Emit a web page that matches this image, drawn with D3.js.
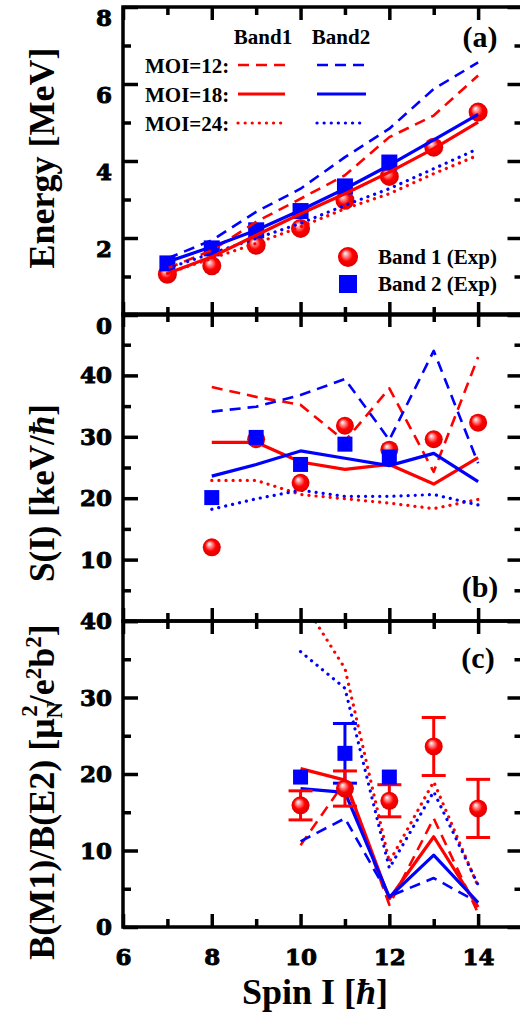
<!DOCTYPE html>
<html><head><meta charset="utf-8">
<script src="https://cdn.jsdelivr.net/npm/d3@7"></script>
<style>body{margin:0;background:#fff}svg{display:block}</style>
</head><body><svg id="c" width="520" height="1016"></svg>
<script>
// ---------- DATA ----------
const spinsA = [7, 8, 9, 10, 11, 12, 13, 14];
const spinsA2 = [7, 8, 9, 10, 11, 12];
const aBand1Exp = [1.06, 1.28, 1.81, 2.25, 2.98, 3.60, 4.36, 5.27];
const aBand2Exp = [1.34, 1.73, 2.20, 2.70, 3.34, 3.96];
const aRed12  = [1.21, 1.68, 2.42, 3.02, 3.63, 4.62, 5.18, 6.22];
const aBlue12 = [1.47, 1.94, 2.68, 3.28, 4.10, 4.84, 5.87, 6.56];
const aRed18  = [1.08, 1.51, 2.07, 2.63, 3.15, 3.71, 4.32, 5.01];
const aBlue18 = [1.38, 1.77, 2.20, 2.72, 3.28, 3.89, 4.55, 5.21];
const aRed24  = [1.08, 1.47, 1.86, 2.29, 2.76, 3.15, 3.67, 4.15];
const aBlue24 = [1.21, 1.60, 1.99, 2.38, 2.85, 3.28, 3.80, 4.32];

const spinsB = [8, 9, 10, 11, 12, 13, 14];
const spinsB2 = [8, 9, 10, 11, 12];
const bBand1Exp = [12.0, 29.6, 22.5, 31.8, 27.9, 29.6, 32.3];
const bBand2Exp = [20.1, 29.9, 25.5, 28.8, 26.7];
const bRed12  = [38.1, 36.5, 35.2, 29.3, 37.9, 24.3, 43.0];
const bBlue12 = [34.1, 34.9, 36.8, 39.4, 29.5, 44.0, 25.7];
const bRed18  = [29.1, 29.1, 25.9, 24.7, 25.5, 22.3, 26.6];
const bBlue18 = [23.6, 25.5, 27.7, 26.5, 25.3, 27.3, 22.7];
const bRed24  = [22.9, 22.9, 20.6, 19.9, 19.2, 18.3, 19.8];
const bBlue24 = [18.2, 19.9, 21.3, 20.3, 20.3, 20.6, 18.9];

const spinsC = [10, 11, 12, 13, 14];
const spinsC2 = [10, 11, 12];
const cBand1Exp = [15.9, 18.1, 16.5, 23.6, 15.5];
const cBand1Err = [1.9, 2.3, 2.1, 3.8, 3.8];
const cBand2Exp = [19.6, 22.7, 19.6];
const cBand2Err = [0, 3.9, 0];
const cRed12  = [10.7, 19.0, 2.9, 14.2, 1.8];
const cBlue12 = [11.2, 14.2, 4.0, 6.4, 3.2];
const cRed18  = [20.7, 19.2, 3.7, 11.8, 2.6];
const cBlue18 = [18.1, 17.6, 3.9, 9.4, 3.2];
const cRed24  = [43.0, 33.8, 8.5, 19.0, 5.3];
const cBlue24 = [36.0, 31.2, 7.7, 17.7, 5.5];

const xMajor = [6, 8, 10, 12, 14];
const xMinor = [7, 9, 11, 13];
const aTicks = [0, 2, 4, 6, 8];
const bTicks = [10, 20, 30, 40];
const cTicks = [0, 10, 20, 30, 40];

// ---------- DRAW ----------
const RED = '#ff0000', BLUE = '#0000ff';
const serif = '"Liberation Serif","Times New Roman",serif';
const tickFont = '"DejaVu Serif",serif';
const svg = d3.select('#c');
svg.append('rect').attr('width', 520).attr('height', 1016).attr('fill', '#fff');

const defs = svg.append('defs');
const g = defs.append('radialGradient').attr('id', 'sph')
  .attr('cx', 0.5).attr('cy', 0.5).attr('r', 0.55).attr('fx', 0.35).attr('fy', 0.3);
g.append('stop').attr('offset', '0%').attr('stop-color', '#ffffff');
g.append('stop').attr('offset', '22%').attr('stop-color', '#ff9a9a');
g.append('stop').attr('offset', '55%').attr('stop-color', '#ff0000');
g.append('stop').attr('offset', '100%').attr('stop-color', '#d80000');

const x = d3.scaleLinear().domain([6, 15]).range([123, 522.5]);

const panels = [
  {id: 'a', y: d3.scaleLinear().domain([0, 8]).range([315, 7]), major: [0,2,4,6,8], minor: [1,3,5,7], labels: aTicks, labelDy: 11},
  {id: 'b', y: d3.scaleLinear().domain([0, 50]).range([621, 314]), major: [0,10,20,30,40,50], minor: [5,15,25,35,45], labels: bTicks, labelDy: 0},
  {id: 'c', y: d3.scaleLinear().domain([0, 40]).range([927, 621]), major: [0,10,20,30,40], minor: [5,15,25,35], labels: cTicks, labelDy: 0}
];

function styleAxis(sel) {
  sel.select('.domain').remove();
  sel.selectAll('line').attr('stroke', '#000').attr('stroke-width', 3.5);
}
function styleLabels(sel) {
  sel.attr('font-family', tickFont).attr('font-weight', 'bold').attr('font-size', 23)
    .attr('fill', '#000').attr('stroke', '#000').attr('stroke-width', 0.9);
}

panels.forEach(p => {
  const [y0, y1] = p.y.range();
  defs.append('clipPath').attr('id', 'clip' + p.id).append('rect')
    .attr('x', x.range()[0]).attr('y', y1).attr('width', x.range()[1] - x.range()[0]).attr('height', y0 - y1);
  p.g = svg.append('g');
  p.plot = svg.append('g').attr('clip-path', `url(#clip${p.id})`);
});

function drawLine(p, spins, vals, color, type) {
  const line = d3.line().x(d => x(d[0])).y(d => p.y(d[1]));
  const path = p.plot.append('path').datum(spins.map((s, i) => [s, vals[i]]))
    .attr('d', line).attr('fill', 'none').attr('stroke', color)
    .attr('stroke-linejoin', 'round');
  if (type === 'solid') path.attr('stroke-width', 3.2);
  if (type === 'dash') path.attr('stroke-width', 2.6).attr('stroke-dasharray', '11,7');
  if (type === 'dot') path.attr('stroke-width', 3.2).attr('stroke-dasharray', '0.1,7').attr('stroke-linecap', 'round');
}
function drawSpheres(p, spins, vals, r) {
  p.plot.selectAll(null).data(spins.map((s, i) => [s, vals[i]])).enter().append('circle')
    .attr('cx', d => x(d[0])).attr('cy', d => p.y(d[1])).attr('r', r).attr('fill', 'url(#sph)');
}
function drawSquares(p, spins, vals, s) {
  p.plot.selectAll(null).data(spins.map((sp, i) => [sp, vals[i]])).enter().append('rect')
    .attr('x', d => x(d[0]) - s / 2).attr('y', d => p.y(d[1]) - s / 2)
    .attr('width', s).attr('height', s).attr('fill', BLUE);
}
function drawErr(p, spins, vals, errs, color) {
  spins.forEach((s, i) => {
    if (!errs[i]) return;
    const cx = x(s), top = p.y(vals[i] + errs[i]), bot = p.y(vals[i] - errs[i]);
    const gg = p.plot.append('g').attr('stroke', color).attr('stroke-width', 3);
    gg.append('line').attr('x1', cx).attr('x2', cx).attr('y1', top).attr('y2', bot);
    gg.append('line').attr('x1', cx - 12).attr('x2', cx + 12).attr('y1', top).attr('y2', top);
    gg.append('line').attr('x1', cx - 12).attr('x2', cx + 12).attr('y1', bot).attr('y2', bot);
  });
}

const A = panels[0], B = panels[1], C = panels[2];
drawSpheres(A, spinsA, aBand1Exp, 9.5);
drawSquares(A, spinsA2, aBand2Exp, 16);
drawLine(A, spinsA, aRed12, RED, 'dash');
drawLine(A, spinsA, aBlue12, BLUE, 'dash');
drawLine(A, spinsA, aRed24, RED, 'dot');
drawLine(A, spinsA, aBlue24, BLUE, 'dot');
drawLine(A, spinsA, aRed18, RED, 'solid');
drawLine(A, spinsA, aBlue18, BLUE, 'solid');

drawLine(B, spinsB, bRed12, RED, 'dash');
drawLine(B, spinsB, bBlue12, BLUE, 'dash');
drawLine(B, spinsB, bRed24, RED, 'dot');
drawLine(B, spinsB, bBlue24, BLUE, 'dot');
drawLine(B, spinsB, bRed18, RED, 'solid');
drawLine(B, spinsB, bBlue18, BLUE, 'solid');
drawSpheres(B, spinsB, bBand1Exp, 9);
drawSquares(B, spinsB2, bBand2Exp, 15);

drawLine(C, spinsC, cRed12, RED, 'dash');
drawLine(C, spinsC, cBlue12, BLUE, 'dash');
drawLine(C, spinsC, cRed24, RED, 'dot');
drawLine(C, spinsC, cBlue24, BLUE, 'dot');
drawLine(C, spinsC, cRed18, RED, 'solid');
drawLine(C, spinsC, cBlue18, BLUE, 'solid');
drawErr(C, spinsC2, cBand2Exp, cBand2Err, BLUE);
drawErr(C, spinsC, cBand1Exp, cBand1Err, RED);
drawSquares(C, spinsC2, cBand2Exp, 15);
drawSpheres(C, spinsC, cBand1Exp, 9);

panels.forEach(p => {
  const [y0, y1] = p.y.range();
  const gA = svg.append('g');
  gA.append('rect').attr('x', x.range()[0]).attr('y', y1).attr('width', x.range()[1] - x.range()[0])
    .attr('height', y0 - y1).attr('fill', 'none').attr('stroke', '#000').attr('stroke-width', 3.5);
  gA.append('g').attr('transform', `translate(${x.range()[0]},0)`)
    .call(d3.axisLeft(p.y).tickValues(p.major).tickSize(-15).tickFormat('')).call(styleAxis);
  gA.append('g').attr('transform', `translate(${x.range()[0]},0)`)
    .call(d3.axisLeft(p.y).tickValues(p.minor).tickSize(-8).tickFormat('')).call(styleAxis);
  gA.append('g').attr('transform', `translate(${x.range()[1]},0)`)
    .call(d3.axisRight(p.y).tickValues(p.major).tickSize(-15).tickFormat('')).call(styleAxis);
  gA.append('g').attr('transform', `translate(${x.range()[1]},0)`)
    .call(d3.axisRight(p.y).tickValues(p.minor).tickSize(-8).tickFormat('')).call(styleAxis);
  gA.append('g').attr('transform', `translate(0,${y1})`)
    .call(d3.axisTop(x).tickValues(xMajor).tickSize(-13).tickFormat('')).call(styleAxis);
  gA.append('g').attr('transform', `translate(0,${y1})`)
    .call(d3.axisTop(x).tickValues(xMinor).tickSize(-8).tickFormat('')).call(styleAxis);
  gA.append('g').attr('transform', `translate(0,${y0})`)
    .call(d3.axisBottom(x).tickValues(xMajor).tickSize(-13).tickFormat('')).call(styleAxis);
  gA.append('g').attr('transform', `translate(0,${y0})`)
    .call(d3.axisBottom(x).tickValues(xMinor).tickSize(-8).tickFormat('')).call(styleAxis);
  gA.append('g').attr('transform', `translate(${x.range()[0]},0)`)
    .call(d3.axisLeft(p.y).tickValues(p.labels).tickSize(0).tickPadding(11).tickFormat(d3.format('d')))
    .call(s => { s.select('.domain').remove(); s.selectAll('line').remove(); })
    .selectAll('text').call(styleLabels).attr('dy', (0.33 * 23 + p.labelDy) + 'px');
});

svg.append('g').attr('transform', `translate(0,${C.y.range()[0]})`)
  .call(d3.axisBottom(x).tickValues(xMajor).tickSize(0).tickPadding(22).tickFormat(d3.format('d')))
  .call(s => { s.select('.domain').remove(); s.selectAll('line').remove(); })
  .selectAll('text').call(styleLabels);

const T = (txt, x0, y0, size, anchor, rot) => svg.append('text')
  .attr('transform', `translate(${x0},${y0})` + (rot ? ` rotate(${rot})` : ''))
  .attr('text-anchor', anchor || 'start').attr('font-family', serif).attr('font-weight', 'bold')
  .attr('font-size', size).attr('fill', '#000').text(txt);

svg.append('text').attr('x', 315).attr('y', 1004).attr('text-anchor', 'middle')
  .attr('font-family', serif).attr('font-weight', 'bold').attr('font-size', 36)
  .call(t => { t.append('tspan').text('Spin I ['); t.append('tspan').attr('font-style', 'italic').text('ħ'); t.append('tspan').text(']'); });

T('Energy [MeV]', 54, 158, 36, 'middle', -90);
svg.append('text').attr('transform', 'translate(54,493) rotate(-90)').attr('text-anchor', 'middle')
  .attr('font-family', serif).attr('font-weight', 'bold').attr('font-size', 35)
  .call(t => { t.append('tspan').text('S(I) [keV/'); t.append('tspan').attr('font-style', 'italic').text('ħ'); t.append('tspan').text(']'); });
svg.append('text').attr('transform', 'translate(54,792) rotate(-90)').attr('text-anchor', 'middle')
  .attr('font-family', serif).attr('font-weight', 'bold').attr('font-size', 36)
  .call(t => {
    t.append('tspan').text('B(M1)/B(E2) [μ');
    t.append('tspan').attr('font-size', 23).attr('dy', 8).text('N');
    t.append('tspan').attr('font-size', 23).attr('dx', -15).attr('dy', -25).text('2');
    t.append('tspan').attr('dy', 17).text('/e');
    t.append('tspan').attr('font-size', 23).attr('dy', -13).text('2');
    t.append('tspan').attr('dy', 13).text('b');
    t.append('tspan').attr('font-size', 23).attr('dy', -13).text('2');
    t.append('tspan').attr('dy', 13).text(']');
  });

T('(a)', 480, 47, 30, 'middle');
T('(b)', 480, 597, 30, 'middle');
T('(c)', 478, 668, 30, 'middle');

T('Band1', 263, 44, 21, 'middle');
T('Band2', 341, 44, 21, 'middle');
const legRows = [
  {label: 'MOI=12:', y: 65, type: 'dash'},
  {label: 'MOI=18:', y: 94, type: 'solid'},
  {label: 'MOI=24:', y: 123, type: 'dot'}
];
legRows.forEach(r => {
  T(r.label, 145, r.y + 8, 21, 'start');
  [[RED, 238, 285], [BLUE, 317, 366]].forEach(([c, x1, x2]) => {
    const l = svg.append('line').attr('x1', x1).attr('x2', x2).attr('y1', r.y).attr('y2', r.y).attr('stroke', c);
    if (r.type === 'solid') l.attr('stroke-width', 3.2);
    if (r.type === 'dash') l.attr('stroke-width', 2.6).attr('stroke-dasharray', '11,7');
    if (r.type === 'dot') l.attr('stroke-width', 3.2).attr('stroke-dasharray', '0.1,7').attr('stroke-linecap', 'round');
  });
});
svg.append('circle').attr('cx', 348).attr('cy', 257).attr('r', 10).attr('fill', 'url(#sph)');
T('Band 1 (Exp)', 378, 264, 21, 'start');
svg.append('rect').attr('x', 339).attr('y', 275).attr('width', 18).attr('height', 18).attr('fill', BLUE);
T('Band 2 (Exp)', 378, 291, 21, 'start');
</script></body></html>
